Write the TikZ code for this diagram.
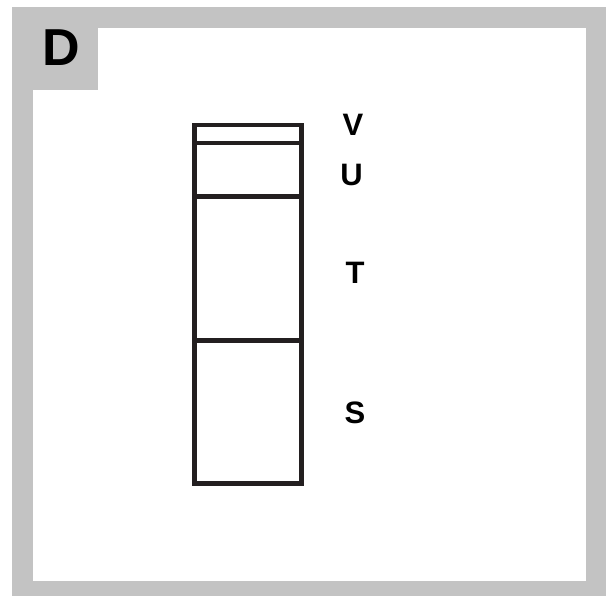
\documentclass[tikz,border=0pt]{standalone}
\usepackage{fontspec}
\setmainfont{Liberation Sans}
\definecolor{framegray}{RGB}{195,195,195}
\definecolor{ink}{RGB}{35,31,32}
\begin{document}
\begin{tikzpicture}[x=1pt,y=-1pt,
  lbl/.style={inner sep=0pt,font=\bfseries\fontsize{31}{31}\selectfont,text=black},
  bar/.style={draw=ink,line width=4.5pt}]
\useasboundingbox (0,0) rectangle (606,596);
\fill[white] (0,0) rectangle (606,596);
\fill[framegray] (12,7) rectangle (606,596);
\fill[white] (33,90) rectangle (586,581);
\fill[white] (98,28) rectangle (586,91);
\node[inner sep=0pt,font=\bfseries\fontsize{52}{52}\selectfont] (d) at (61,47.5) {D};
\coordinate (tl) at (194.5,125);
\coordinate (br) at (301.5,483.5);
\draw[bar] (tl) rectangle (br);
\coordinate (a1) at (194.5,143); \coordinate (b1) at (301.5,143);
\coordinate (a2) at (194.5,196.5); \coordinate (b2) at (301.5,196.5);
\coordinate (a3) at (194.5,340.5); \coordinate (b3) at (301.5,340.5);
\draw[bar] (a1) -- (b1);
\draw[bar] (a2) -- (b2);
\draw[bar] (a3) -- (b3);
\node[lbl] (v) at (353,125) {V};
\node[lbl] (u) at (351.5,175) {U};
\node[lbl] (t) at (355,273) {T};
\node[lbl] (s) at (355,413) {S};
\end{tikzpicture}
\end{document}
